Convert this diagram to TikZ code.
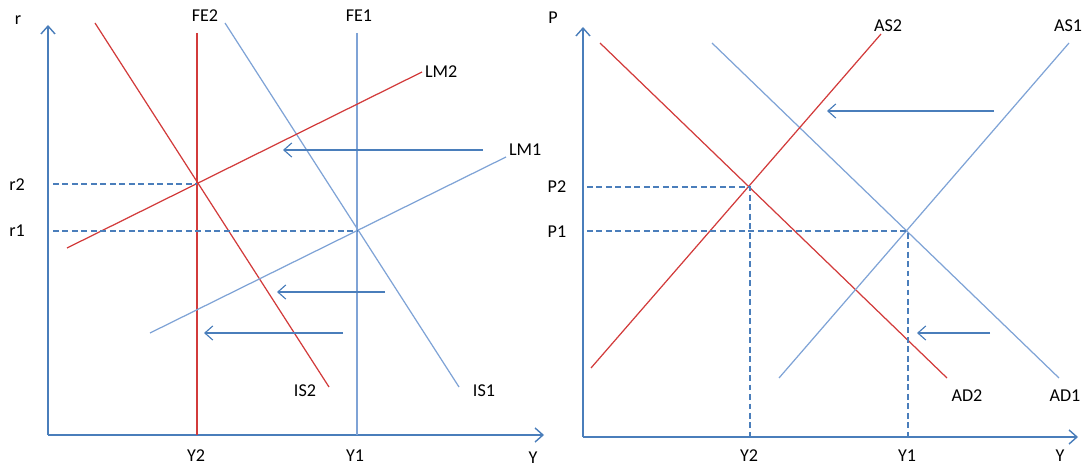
\documentclass[tikz,border=0pt]{standalone}
\usepackage{fontspec}
\setmainfont{Carlito}
\usepackage{xcolor}
\usetikzlibrary{arrows.meta}
\definecolor{axisblue}{HTML}{4A7EBB}
\definecolor{curveblue}{HTML}{7FA3D6}
\definecolor{shiftred}{HTML}{D23B3B}

\begin{document}
\begin{tikzpicture}[
  x=0.02cm, y=-0.02cm,
  ax/.style={axisblue, line width=0.8pt, -{Straight Barb[length=4.5pt, width=8pt]}},
  bl/.style={curveblue, line width=0.7pt},
  rd/.style={shiftred, line width=0.7pt},
  guide/.style={axisblue, line width=0.6pt, dash pattern=on 3.4pt off 2pt},
  shiftarrow/.style={axisblue, line width=0.65pt, -{Straight Barb[length=4.5pt, width=8pt]}},
  lbl/.style={font=\fontsize{10.3}{11}\selectfont, inner sep=1pt}
]
\useasboundingbox (0,0) rectangle (1083,466);

% IS-LM panel
\coordinate (o1) at (48,435);
\coordinate (rtop) at (48,25);
\coordinate (yend1) at (544,435);
\draw[ax] (o1) -- (rtop);
\draw[ax] (o1) -- (yend1);
\node[lbl] (rlab) at (18,20) {r};
\node[lbl] (ylab1) at (533,458) {Y};

% FE lines
\coordinate (fe2top) at (197,33);
\coordinate (fe2bot) at (197,435);
\coordinate (fe1top) at (357,33);
\coordinate (fe1bot) at (357,435);
\draw[rd] (fe2top) -- (fe2bot);
\draw[bl] (fe1top) -- (fe1bot);
\node[lbl] (fe2lab) at (205,16) {FE2};
\node[lbl] (fe1lab) at (359,16) {FE1};
\node[lbl] (y2lab) at (196,456) {Y2};
\node[lbl] (y1lab) at (355,456) {Y1};

% IS curves
\coordinate (is2a) at (95,23);
\coordinate (is2b) at (329,387);
\coordinate (is1a) at (225,23);
\coordinate (is1b) at (459,387);
\draw[rd] (is2a) -- (is2b);
\draw[bl] (is1a) -- (is1b);
\node[lbl] (is2lab) at (305,391) {IS2};
\node[lbl] (is1lab) at (484,391) {IS1};

% LM curves
\coordinate (lm2a) at (67,248);
\coordinate (lm2b) at (422,72);
\coordinate (lm1a) at (150,333);
\coordinate (lm1b) at (506,157);
\draw[rd] (lm2a) -- (lm2b);
\draw[bl] (lm1a) -- (lm1b);
\node[lbl, anchor=west] (lm2lab) at (423,72) {LM2};
\node[lbl, anchor=west] (lm1lab) at (507,150) {LM1};

% equilibria
\coordinate (e2) at (197,184);
\coordinate (e1) at (357,231);
\coordinate (r2ax) at (53,184);
\coordinate (r1ax) at (53,231);
\draw[guide] (r2ax) -- (e2);
\draw[guide] (r1ax) -- (e1);
\node[lbl] (r2lab) at (17,185) {r2};
\node[lbl] (r1lab) at (17,231) {r1};

% shifts
\coordinate (s1a) at (483,150);
\coordinate (s1b) at (283,150);
\coordinate (s2a) at (385,292);
\coordinate (s2b) at (277,292);
\coordinate (s3a) at (343,333);
\coordinate (s3b) at (204,333);
\draw[shiftarrow] (s1a) -- (s1b);
\draw[shiftarrow] (s2a) -- (s2b);
\draw[shiftarrow] (s3a) -- (s3b);

% AS-AD panel
\coordinate (o2) at (583,437);
\coordinate (ptop) at (583,27);
\coordinate (yend2) at (1078,437);
\draw[ax] (o2) -- (ptop);
\draw[ax] (o2) -- (yend2);
\node[lbl] (plab) at (553,18) {P};
\node[lbl] (ylab2) at (1060,456) {Y};

% AD curves
\coordinate (ad2a) at (600,43);
\coordinate (ad2b) at (947,378);
\coordinate (ad1a) at (712,43);
\coordinate (ad1b) at (1059,378);
\draw[rd] (ad2a) -- (ad2b);
\draw[bl] (ad1a) -- (ad1b);
\node[lbl] (ad2lab) at (967,396) {AD2};
\node[lbl] (ad1lab) at (1065,396) {AD1};

% AS curves
\coordinate (as2a) at (591,368);
\coordinate (as2b) at (881,34);
\coordinate (as1a) at (779,378);
\coordinate (as1b) at (1069,43);
\draw[rd] (as2a) -- (as2b);
\draw[bl] (as1a) -- (as1b);
\node[lbl] (as2lab) at (888,26) {AS2};
\node[lbl] (as1lab) at (1068,26) {AS1};

% equilibria
\coordinate (q2) at (750,187);
\coordinate (q1) at (908,231);
\coordinate (p2ax) at (587,187);
\coordinate (p1ax) at (587,231);
\coordinate (y2ax) at (750,437);
\coordinate (y1ax) at (908,437);
\draw[guide] (p2ax) -- (q2) -- (y2ax);
\draw[guide] (p1ax) -- (q1) -- (y1ax);
\node[lbl] (p2lab) at (557,187) {P2};
\node[lbl] (p1lab) at (557,232) {P1};
\node[lbl] (y2lab2) at (749,456) {Y2};
\node[lbl] (y1lab2) at (907,456) {Y1};

% shifts
\coordinate (s4a) at (994,111);
\coordinate (s4b) at (827,111);
\coordinate (s5a) at (990,333);
\coordinate (s5b) at (917,333);
\draw[shiftarrow] (s4a) -- (s4b);
\draw[shiftarrow] (s5a) -- (s5b);
\end{tikzpicture}
\end{document}
